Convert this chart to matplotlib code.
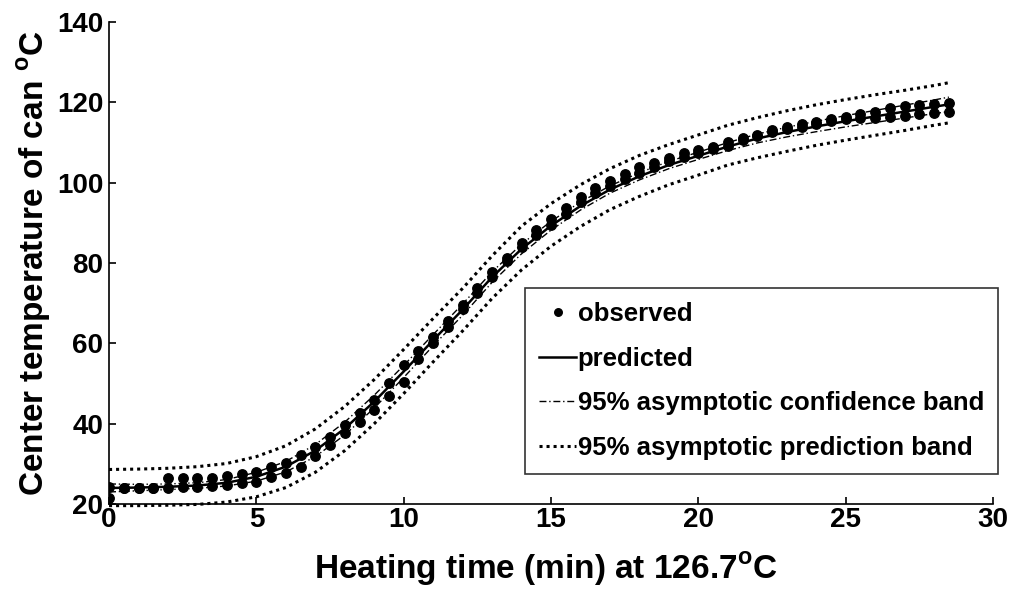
import matplotlib
matplotlib.use("Agg")
import matplotlib.pyplot as plt

plt.rcParams['font.family'] = ['Liberation Sans', 'DejaVu Sans']
plt.rcParams['font.weight'] = 'bold'
plt.rcParams['mathtext.fontset'] = 'custom'
plt.rcParams['mathtext.rm'] = 'Liberation Sans:bold'
plt.rcParams['mathtext.bf'] = 'Liberation Sans:bold'

# ---- data ----
t_obs = [0.0, 0.5, 1.0, 1.5, 2.0, 2.5, 3.0, 3.5, 4.0, 4.5, 5.0, 5.5, 6.0, 6.5,
         7.0, 7.5, 8.0, 8.5, 9.0, 9.5, 10.0, 10.5, 11.0, 11.5, 12.0, 12.5, 13.0,
         13.5, 14.0, 14.5, 15.0, 15.5, 16.0, 16.5, 17.0, 17.5, 18.0, 18.5, 19.0,
         19.5, 20.0, 20.5, 21.0, 21.5, 22.0, 22.5, 23.0, 23.5, 24.0, 24.5, 25.0,
         25.5, 26.0, 26.5, 27.0, 27.5, 28.0, 28.5]
obs_rep1 = [24.2, 24.0, 24.0, 24.1, 26.5, 26.6, 26.4, 26.5, 27.0, 27.6, 27.9, 29.2,
            30.2, 32.2, 34.2, 36.7, 39.7, 42.6, 45.9, 50.1, 54.6, 58.0, 61.5, 65.5,
            69.5, 73.7, 77.8, 81.2, 85.0, 88.2, 90.9, 93.7, 96.4, 98.7, 100.4, 102.2,
            103.8, 105.0, 106.2, 107.4, 108.2, 109.0, 110.2, 111.2, 111.9, 113.1,
            113.8, 114.5, 115.2, 115.8, 116.4, 117.0, 117.6, 118.5, 119.0, 119.4,
            119.6, 119.8]
obs_rep2 = [21.5, 24.0, 24.0, 24.0, 24.1, 24.2, 24.3, 24.4, 24.8, 25.2, 25.5, 26.7,
            27.7, 29.2, 32.0, 34.7, 37.7, 40.4, 43.4, 47.0, 50.5, 56.0, 60.0, 64.0,
            68.5, 72.5, 76.5, 80.5, 84.0, 87.0, 89.5, 92.3, 95.2, 97.5, 99.2, 100.8,
            102.5, 104.0, 105.3, 106.5, 107.5, 108.4, 109.2, 110.6, 111.5, 112.5,
            113.3, 113.9, 114.6, 115.3, 115.8, 116.0, 116.0, 116.3, 116.7, 117.2,
            117.3, 117.7]

t_fit = [0, 1, 2, 3, 4, 5, 6, 7, 8, 9, 10, 11, 12, 13, 14, 15, 16, 17, 18, 19,
         20, 21, 22, 23, 24, 25, 26, 27, 28, 28.5]
predicted = [24.0, 24.1, 24.3, 24.6, 25.3, 26.8, 29.3, 33.3, 38.8, 45.5, 53.0,
             60.8, 68.4, 76.5, 83.5, 89.3, 94.2, 98.3, 101.6, 104.4, 106.7, 109.0,
             111.0, 112.6, 114.0, 115.3, 116.5, 117.7, 118.9, 119.5]
conf_hi = [25.0, 24.9, 25.0, 25.3, 26.1, 27.9, 30.6, 34.8, 40.4, 47.1, 54.5, 62.2,
           69.8, 77.8, 84.7, 90.4, 95.2, 99.2, 102.5, 105.3, 107.6, 110.0, 112.1,
           113.8, 115.3, 116.7, 118.0, 119.3, 120.6, 121.3]
conf_lo = [23.0, 23.3, 23.6, 23.9, 24.5, 25.7, 28.0, 31.8, 37.2, 43.9, 51.5, 59.4,
           67.0, 75.2, 82.3, 88.2, 93.2, 97.4, 100.7, 103.5, 105.8, 108.0, 109.9,
           111.4, 112.7, 113.9, 115.0, 116.1, 117.2, 117.7]
pband_hi = [28.6, 28.7, 28.9, 29.3, 30.1, 31.8, 34.5, 38.7, 44.3, 51.0, 58.5, 66.2,
            73.7, 81.8, 89.2, 94.8, 99.5, 103.5, 106.8, 109.5, 111.9, 114.3, 116.2,
            117.9, 119.4, 120.7, 121.9, 123.0, 124.2, 124.9]
pband_lo = [19.6, 19.6, 19.7, 19.9, 20.5, 21.8, 24.1, 27.9, 33.3, 40.0, 47.5, 55.4,
            63.1, 71.2, 78.3, 84.2, 89.1, 93.3, 96.6, 99.5, 101.9, 104.4, 106.2,
            107.8, 109.3, 110.6, 111.8, 113.0, 114.3, 114.9]

x_ticks = [0, 5, 10, 15, 20, 25, 30]
y_ticks = [20, 40, 60, 80, 100, 120, 140]

# ---- figure ----
fig = plt.figure(figsize=(10.2, 5.92), dpi=100)
ax = fig.add_axes([0.1069, 0.1486, 0.8667, 0.8142])

dot = (0, (1.0, 1.3))
ax.plot(t_obs, obs_rep1, linestyle='none', marker='o', ms=6.8, color='black',
        label='observed', zorder=4)
ax.plot(t_obs, obs_rep2, linestyle='none', marker='o', ms=6.8, color='black',
        zorder=4)
ax.plot(t_fit, predicted, '-', color='black', lw=1.8, label='predicted', zorder=3)
ax.plot(t_fit, conf_hi, color='black', lw=1.0, linestyle=(0, (5, 2, 1, 2)),
        label='95% asymptotic confidence band', zorder=3)
ax.plot(t_fit, conf_lo, color='black', lw=1.0, linestyle=(0, (5, 2, 1, 2)), zorder=3)
ax.plot(t_fit, pband_hi, color='black', lw=2.2, linestyle=dot,
        label='95% asymptotic prediction band', zorder=3)
ax.plot(t_fit, pband_lo, color='black', lw=2.2, linestyle=dot, clip_on=False,
        zorder=3)

ax.set_xlim(0, 30)
ax.set_ylim(20, 140)
ax.set_xticks(x_ticks)
ax.set_yticks(y_ticks)
ax.spines['top'].set_visible(False)
ax.spines['right'].set_visible(False)
for s in ('left', 'bottom'):
    ax.spines[s].set_linewidth(1.2)
ax.tick_params(direction='in', length=5, width=1.2, labelsize=20)
ax.tick_params(axis='y', pad=4)
ax.tick_params(axis='x', pad=2)
for lab in ax.get_xticklabels() + ax.get_yticklabels():
    lab.set_fontweight('bold')

ax.set_xlabel(r'Heating time (min) at 126.7$^{\mathbf{o}}$C', fontsize=24,
              fontweight='bold')
ax.set_ylabel(r'Center temperature of can $^{\mathbf{o}}$C', fontsize=24,
              fontweight='bold')
ax.xaxis.set_label_coords(0.494, -0.095)
ax.yaxis.set_label_coords(-0.063, 0.5)

leg = ax.legend(loc='upper left', bbox_to_anchor=(0.4706, 0.448), borderaxespad=0,
                fontsize=18.5, frameon=True, fancybox=False, shadow=False,
                handlelength=1.45, handletextpad=0.05, labelspacing=0.8,
                borderpad=0.55, numpoints=1, markerscale=0.8)
leg.get_frame().set_edgecolor('black')
leg.get_frame().set_linewidth(1.2)
for txt in leg.get_texts():
    txt.set_fontweight('bold')

fig.savefig('out.png', dpi=100)
